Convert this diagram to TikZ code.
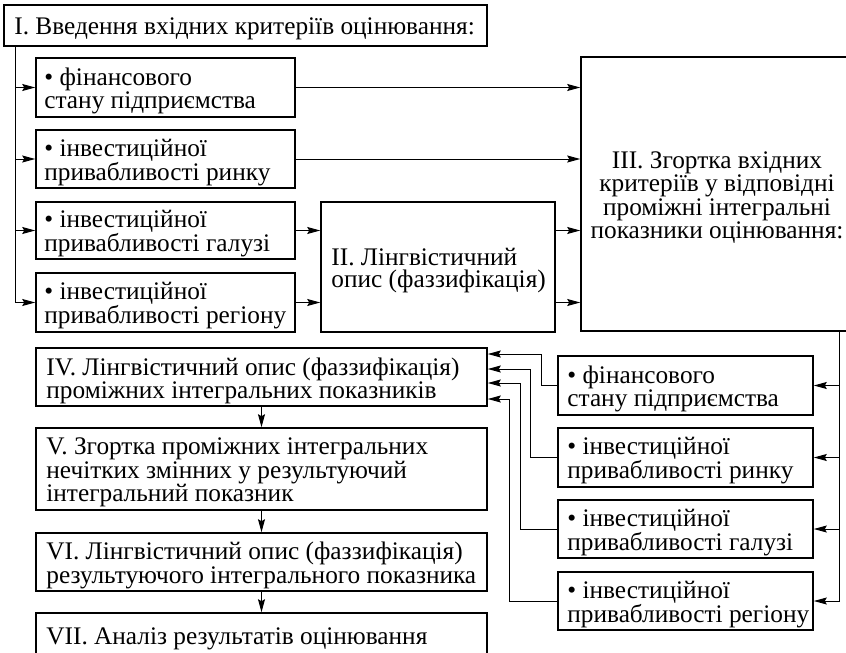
\documentclass[tikz,border=0pt]{standalone}
\usepackage{fontspec}
\setmainfont{Liberation Serif}
\usetikzlibrary{arrows.meta}
\newcommand\dfont{\fontsize{25.4}{21.7}\selectfont}
\newcommand\dfontb{\fontsize{25.4}{23}\selectfont}
\begin{document}
\begin{tikzpicture}[x=1bp,y=-1bp,
  blk/.style 2 args={draw, line width=1.6bp, inner sep=0pt, minimum width=#1bp, minimum height=#2bp},
  txt/.style={anchor=west, align=left, inner sep=0pt, font=\dfont, yshift=-3.5bp},
  arr/.style={line width=1bp, -{Stealth[length=13bp,width=7bp,inset=2bp]}}]
\clip (0,0) rectangle (846,653);
% boxes
\node[blk={483}{41}] (I) at (245.5,25.5) {};
\node[blk={259}{59}] (C1) at (165.5,87.5) {};
\node[blk={259}{58}] (C2) at (165.5,159) {};
\node[blk={259}{57}] (C3) at (165.5,230.5) {};
\node[blk={259}{59}] (C4) at (165.5,302.5) {};
\node[blk={234}{130}] (II) at (438,267) {};
\node[blk={272}{274}] (III) at (717,194) {};
\node[blk={255}{59}] (R1) at (685.5,385.5) {};
\node[blk={255}{59}] (R2) at (685.5,457.5) {};
\node[blk={255}{58}] (R3) at (685.5,529) {};
\node[blk={255}{58}] (R4) at (685.5,601) {};
\node[blk={451}{58}] (IV) at (261.5,377) {};
\node[blk={451}{82}] (V) at (261.5,469) {};
\node[blk={451}{58}] (VI) at (261.5,562) {};
\node[blk={451}{44}] (VII) at (261.5,635) {};
% texts
\node[txt] (tI) at ([xshift=11bp]I.west) {I. Введення вхідних критеріїв оцінювання:};
\node[txt] (tC1) at ([xshift=9bp]C1.west) {• фінансового\\стану підприємства};
\node[txt] (tC2) at ([xshift=9bp]C2.west) {• інвестиційної\\привабливості ринку};
\node[txt] (tC3) at ([xshift=9bp]C3.west) {• інвестиційної\\привабливості галузі};
\node[txt] (tC4) at ([xshift=9bp]C4.west) {• інвестиційної\\привабливості регіону};
\node[txt, font=\dfontb] (tII) at ([xshift=11bp]II.west) {II. Лінгвістичний\\опис (фаззифікація)};
\node[txt, anchor=center, align=center] (tIII) at (III.center) {III. Згортка вхідних\\критеріїв у відповідні\\проміжні інтегральні\\показники оцінювання:};
\node[txt] (tR1) at ([xshift=10bp]R1.west) {• фінансового\\стану підприємства};
\node[txt] (tR2) at ([xshift=10bp]R2.west) {• інвестиційної\\привабливості ринку};
\node[txt] (tR3) at ([xshift=10bp]R3.west) {• інвестиційної\\привабливості галузі};
\node[txt] (tR4) at ([xshift=10bp]R4.west) {• інвестиційної\\привабливості регіону};
\node[txt] (tIV) at ([xshift=11bp]IV.west) {IV. Лінгвістичний опис (фаззифікація)\\проміжних інтегральних показників};
\node[txt] (tV) at ([xshift=11bp]V.west) {V. Згортка проміжних інтегральних\\нечітких змінних у результуючий\\інтегральний показник};
\node[txt] (tVI) at ([xshift=11bp]VI.west) {VI. Лінгвістичний опис (фаззифікація)\\результуючого інтегрального показника};
\node[txt] (tVII) at ([xshift=11bp]VII.west) {VII. Аналіз результатів оцінювання};
% left trunk
\coordinate (tr) at ([xshift=12bp]I.south west);
\draw[arr] (tr) |- (C4.west);
\draw[arr] (tr |- C1.west) -- (C1.west);
\draw[arr] (tr |- C2.west) -- (C2.west);
\draw[arr] (tr |- C3.west) -- (C3.west);
% to III and II
\draw[arr] (C1.east) -- (C1.east -| III.west);
\draw[arr] (C2.east) -- (C2.east -| III.west);
\draw[arr] (C3.east) -- (C3.east -| II.west);
\draw[arr] (C4.east) -- (C4.east -| II.west);
\draw[arr] (II.east |- C3.east) -- (III.west |- C3.east);
\draw[arr] (II.east |- C4.east) -- (III.west |- C4.east);
% right trunk
\coordinate (tr2) at ([xshift=-14bp]III.south east);
\draw[arr] (tr2) |- (R4.east);
\draw[arr] (tr2 |- R1.east) -- (R1.east);
\draw[arr] (tr2 |- R2.east) -- (R2.east);
\draw[arr] (tr2 |- R3.east) -- (R3.east);
% R to IV
\draw[arr] (R1.west) -- ++(-16,0) |- ([yshift=23bp]IV.east);
\draw[arr] (R2.west) -- ++(-27,0) |- ([yshift=8bp]IV.east);
\draw[arr] (R3.west) -- ++(-37,0) |- ([yshift=-6bp]IV.east);
\draw[arr] (R4.west) -- ++(-48,0) |- ([yshift=-22bp]IV.east);
% chain
\draw[arr] (IV.south) -- (V.north);
\draw[arr] (V.south) -- (VI.north);
\draw[arr] (VI.south) -- (VII.north);
\end{tikzpicture}
\end{document}
